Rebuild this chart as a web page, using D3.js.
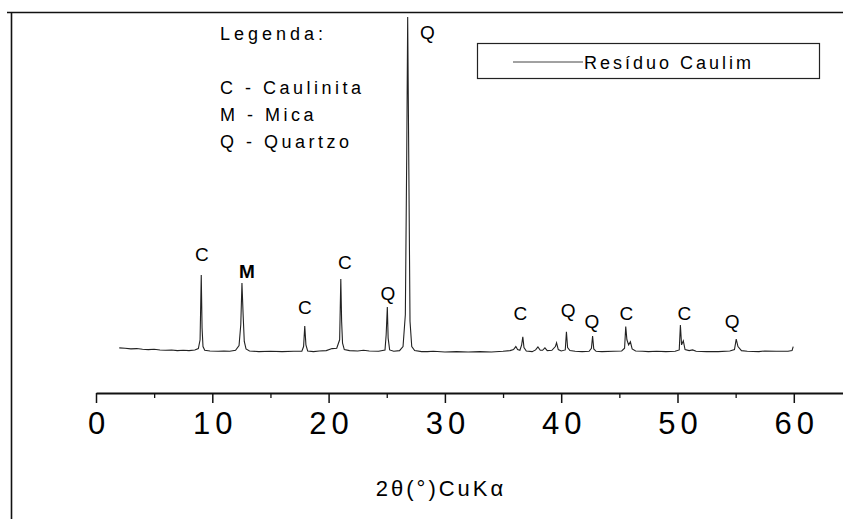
<!DOCTYPE html>
<html>
<head>
<meta charset="utf-8">
<script src="https://cdn.jsdelivr.net/npm/d3@7"></script>
<style>
html,body{margin:0;padding:0;background:#fff;}
svg{display:block;font-family:"Liberation Sans",Arial,sans-serif;}
</style>
</head>
<body>
<svg id="chart" width="843" height="519"></svg>
<script>
// ---- data ----
const twoTheta = [2.0,2.5,3.0,3.5,4.0,4.5,5.0,5.5,6.0,6.5,7.0,7.5,8.0,8.5,8.8,8.95,9.05,9.12,9.2,9.35,9.8,10.5,11.0,11.5,12.0,12.3,12.45,12.55,12.65,12.75,12.9,13.2,14.0,15.0,16.0,17.0,17.7,17.85,17.95,18.05,18.2,18.7,19.2,19.8,20.3,20.7,20.95,21.05,21.12,21.2,21.35,21.8,22.5,23.0,23.5,24.3,24.85,24.95,25.05,25.12,25.25,25.6,26.1,26.4,26.6,26.72,26.8,26.9,27.0,27.15,27.4,28.0,28.5,29.0,30.0,31.0,32.0,33.0,34.0,35.0,35.6,35.9,36.1,36.25,36.45,36.6,36.7,36.8,37.0,37.5,37.8,38.0,38.2,38.4,38.6,38.8,39.2,39.5,39.6,39.75,40.0,40.35,40.45,40.55,40.75,41.2,41.8,42.4,42.6,42.7,42.8,43.0,43.5,44.5,45.2,45.45,45.55,45.65,45.8,45.95,46.1,46.4,47.0,47.5,48.2,49.0,49.8,50.15,50.25,50.35,50.5,50.65,51.0,51.3,51.6,52.5,53.5,54.5,54.9,55.05,55.2,55.5,56.0,57.0,57.5,58.5,59.5,59.85,59.95];
const intensity = [2.1,2.0,1.8,1.9,1.7,1.6,1.7,1.5,1.4,1.5,1.3,1.4,1.3,1.5,1.9,4.5,23.7,8.0,2.5,1.4,1.2,1.1,1.2,1.1,1.4,2.8,9.0,21.3,12.0,4.0,1.8,1.2,1.0,1.1,1.0,1.1,1.1,2.5,8.6,3.0,1.2,1.0,1.2,1.3,1.9,2.0,4.5,22.5,10.0,3.5,1.6,1.3,1.2,1.4,1.2,1.1,1.5,6.0,14.2,5.0,1.5,1.1,1.3,2.5,12.0,60.0,100.0,55.0,10.0,2.5,1.3,1.0,1.0,1.1,0.9,1.0,0.9,1.0,0.9,1.1,1.3,1.6,2.5,1.6,1.4,3.0,5.4,2.2,1.2,1.0,1.5,2.4,1.4,1.4,2.1,1.3,1.4,2.5,3.6,1.6,1.2,1.5,6.9,2.2,1.3,1.1,1.0,1.1,2.0,5.6,1.8,1.1,1.0,1.1,1.2,2.0,8.4,4.5,3.0,3.9,1.8,1.2,1.1,1.0,1.1,1.0,1.1,1.5,8.9,3.0,4.2,1.6,1.3,1.5,1.1,1.0,1.0,1.2,1.6,4.7,2.5,1.3,1.1,1.0,1.2,1.1,1.1,1.3,2.5];

const xTicks = [0,10,20,30,40,50,60];
const xMinorTicks = [5,15,25,35,45,55,65];

const peakNames  = ["C","M","C","C","Q","Q","C","Q","Q","C","C","Q"];
const peakAngle  = [9.1,12.97,17.97,21.4,25.1,28.5,36.5,40.6,42.65,45.6,50.6,54.7];
const peakLabelI = [29.6,24.6,14.2,27.5,18.3,95.3,12.4,13.3,9.8,12.4,12.4,9.8];

const legendLines = ["C - Caulinita","M - Mica","Q - Quartzo"];
const seriesName = "Resíduo Caulim";

// ---- layout ----
const svg = d3.select("#chart");
const x = d3.scaleLinear().domain([0, 64.3]).range([96, 843.8]);
const y = d3.scaleLinear().domain([0, 100]).range([355, 17]);
const axisY = 393;

// outer frame (top and left edges visible)
svg.append("line").attr("x1",7).attr("x2",843).attr("y1",12.5).attr("y2",12.5)
  .attr("stroke","#111").attr("stroke-width",1.6);
svg.append("line").attr("x1",11.5).attr("x2",11.5).attr("y1",12).attr("y2",519)
  .attr("stroke","#111").attr("stroke-width",1.6);

// spectrum line
const pts = twoTheta.map((t,i)=>[t, intensity[i]]);
svg.append("path")
  .datum(pts)
  .attr("fill","none")
  .attr("stroke","#222")
  .attr("stroke-width",1.1)
  .attr("d", d3.line().x(d=>x(d[0])).y(d=>y(d[1])));

// x axis
const gx = svg.append("g").attr("transform",`translate(0,${axisY})`);
gx.call(d3.axisBottom(x).tickValues(xTicks).tickSize(10).tickSizeOuter(0).tickPadding(9).tickFormat(d3.format("d")));
gx.select(".domain").attr("stroke","#111").attr("stroke-width",2);
gx.selectAll(".tick line").attr("stroke","#111").attr("stroke-width",1.5);
gx.selectAll(".tick text")
  .attr("font-family","'Liberation Sans',Arial,sans-serif")
  .attr("font-size",31).attr("fill","#000")
  .style("letter-spacing","5px").attr("dx",2.5);
const gm = svg.append("g").attr("transform",`translate(0,${axisY})`);
gm.call(d3.axisBottom(x).tickValues(xMinorTicks).tickSize(5).tickSizeOuter(0).tickFormat(""));
gm.select(".domain").remove();
gm.selectAll(".tick line").attr("stroke","#111").attr("stroke-width",1.3);

// axis title
svg.append("text").attr("x",441).attr("y",496).attr("text-anchor","middle")
  .attr("font-size",22).style("letter-spacing","3px").attr("fill","#000")
  .text("2θ(°)CuKα");

// peak labels
svg.append("g").selectAll("text").data(peakNames).join("text")
  .attr("x",(d,i)=>x(peakAngle[i]))
  .attr("y",(d,i)=>y(peakLabelI[i]))
  .attr("text-anchor","middle").attr("dominant-baseline","central")
  .attr("font-size",19).attr("fill","#000")
  .attr("font-weight",d=>d==="M"?"bold":"normal")
  .text(d=>d);

// mineral key
svg.append("text").attr("x",220).attr("y",40).attr("font-size",18)
  .style("letter-spacing","4px").text("Legenda:");
svg.append("g").selectAll("text").data(legendLines).join("text")
  .attr("x",220).attr("y",(d,i)=>94 + i*27)
  .attr("font-size",18).style("letter-spacing","3.5px").text(d=>d);

// series legend
const lg = svg.append("g");
lg.append("rect").attr("x",477.5).attr("y",43.5).attr("width",342).attr("height",35)
  .attr("fill","none").attr("stroke","#222").attr("stroke-width",1.2);
lg.append("line").attr("x1",513).attr("x2",583).attr("y1",62).attr("y2",62)
  .attr("stroke","#444").attr("stroke-width",1);
lg.append("text").attr("x",584).attr("y",69).attr("font-size",18)
  .style("letter-spacing","3px").text(seriesName);
</script>
</body>
</html>
